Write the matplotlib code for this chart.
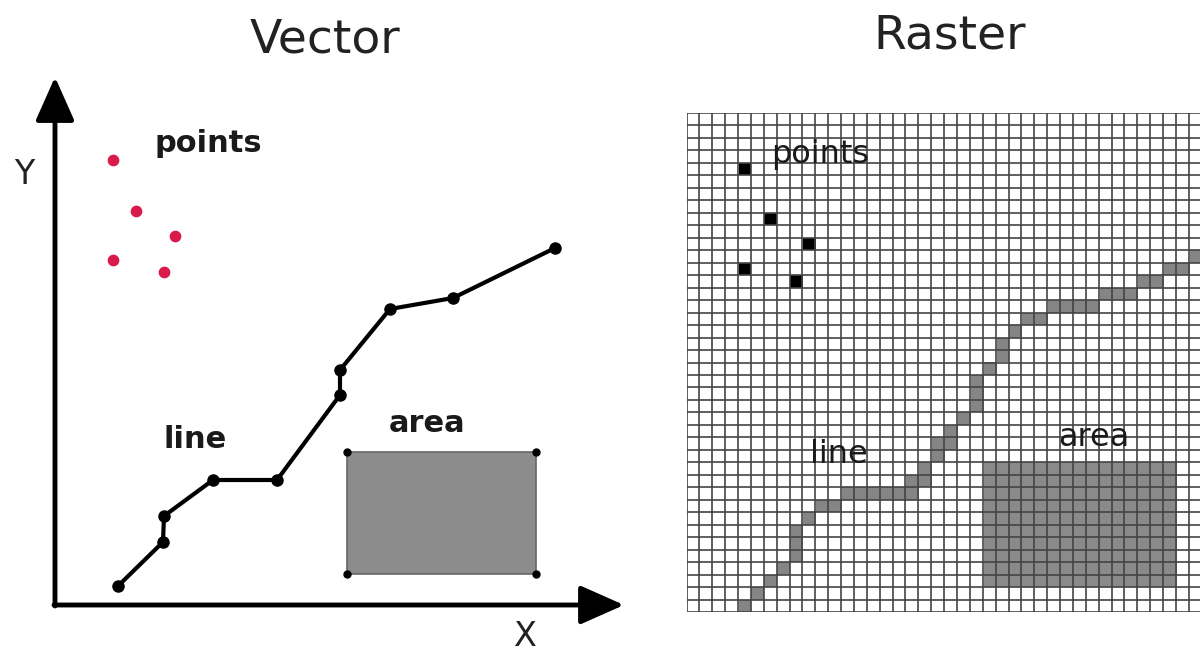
import numpy as np
import matplotlib.pyplot as plt
from matplotlib.colors import ListedColormap
from matplotlib.patches import Rectangle

# Vector panel data (picture coordinates, y grows downwards)
point_x = [113, 136, 175, 113, 164]
point_y = [160, 211, 236, 260, 272]

line_x = [118, 163, 164, 213, 277, 340, 340, 390, 453, 555]
line_y = [586, 542, 516, 480, 480, 395, 370, 309, 298, 248]

area_x0, area_x1 = 347, 536
area_y0, area_y1 = 452, 574

# Raster panel data (grid cells: column, row; row 0 at top)
n_cols = 40
n_rows = 40
raster_point_cols = [4, 6, 9, 4, 8]
raster_point_rows = [4, 8, 10, 12, 13]

raster_line_cols = [4, 5, 6, 7, 8, 8, 8, 9, 10, 11, 12, 13, 14, 15, 16, 17, 17, 18, 18,
                    19, 19, 20, 20, 21, 22, 22, 22, 23, 24, 24, 25, 26, 27, 28, 29, 30, 31,
                    32, 33, 34, 35, 36, 37, 38, 39]
raster_line_rows = [39, 38, 37, 36, 35, 34, 33, 32, 31, 31, 30, 30, 30, 30, 30, 30, 29, 29, 28,
                    27, 26, 26, 25, 24, 23, 22, 21, 20, 19, 18, 17, 16, 16, 15, 15, 15, 15,
                    14, 14, 14, 13, 13, 12, 12, 11]

raster_area_cols = (23, 38)
raster_area_rows = (28, 38)

fig = plt.figure(figsize=(12, 6.52), dpi=100)

# ---- Vector ----
ax = fig.add_axes([0, 0, 1, 1])
ax.set_xlim(0, 1200)
ax.set_ylim(652, 0)
ax.axis('off')

ax.text(325, 40, "Vector", fontsize=34, ha='center', va='center', color='#222222')
ax.text(950, 36, "Raster", fontsize=34, ha='center', va='center', color='#222222')

# axes arrows
arrow = dict(arrowstyle='-|>,head_length=0.9,head_width=0.4', color='black', lw=3.5,
             mutation_scale=30, shrinkA=0, shrinkB=0)
ax.annotate('', xy=(55, 77), xytext=(55, 606), arrowprops=arrow)
ax.annotate('', xy=(624, 605), xytext=(54, 605), arrowprops=arrow)
ax.text(24, 174, "Y", fontsize=24, ha='center', va='center', color='#222222')
ax.text(525, 636, "X", fontsize=24, ha='center', va='center', color='#222222')

# points
ax.scatter(point_x, point_y, s=55, color='#d81b4a', zorder=3)
ax.text(208, 143, "points", fontsize=22, fontweight='bold', ha='center', va='center',
        color='#1a1a1a')

# line
ax.plot(line_x, line_y, color='black', lw=3, marker='o', markersize=8, zorder=3)
ax.text(195, 440, "line", fontsize=22, fontweight='bold', ha='center', va='center',
        color='#1a1a1a')

# area
ax.add_patch(Rectangle((area_x0, area_y0), area_x1 - area_x0, area_y1 - area_y0,
                       facecolor='#8c8c8c', edgecolor='#666666', lw=1.2, zorder=2))
ax.plot([area_x0, area_x1, area_x0, area_x1], [area_y0, area_y0, area_y1, area_y1],
        'o', color='black', markersize=5, zorder=3)
ax.text(427, 424, "area", fontsize=22, fontweight='bold', ha='center', va='center',
        color='#1a1a1a')

# ---- Raster ----
cell_w = 12.88
left, top, bottom = 686.5, 113, 612
axr = fig.add_axes([left / 1200, (652 - bottom) / 652, n_cols * cell_w / 1200,
                    (bottom - top) / 652])
grid = np.zeros((n_rows, n_cols))
grid[raster_area_rows[0]:raster_area_rows[1], raster_area_cols[0]:raster_area_cols[1]] = 2
for c, r in zip(raster_line_cols, raster_line_rows):
    grid[r, c] = 1
for c, r in zip(raster_point_cols, raster_point_rows):
    grid[r, c] = 3

cmap = ListedColormap(['white', '#858585', '#8a8a8a', 'black'])
axr.imshow(grid, cmap=cmap, vmin=0, vmax=3, extent=(0, n_cols, n_rows, 0),
           aspect='auto', interpolation='nearest')
axr.vlines(np.arange(n_cols + 1), 0, n_rows, color='#444444', lw=1.2)
axr.hlines(np.arange(n_rows + 1), 0, n_cols, color='#444444', lw=1.2)
axr.set_xlim(0, n_cols)
axr.set_ylim(n_rows, 0)
axr.axis('off')

axr.text(10.4, 3.35, "points", fontsize=23, ha='center', va='center', color='#1a1a1a')
axr.text(11.8, 27.4, "line", fontsize=23, ha='center', va='center', color='#1a1a1a')
axr.text(31.6, 26.0, "area", fontsize=23, ha='center', va='center', color='#1a1a1a')

fig.savefig("out.png", dpi=100)
